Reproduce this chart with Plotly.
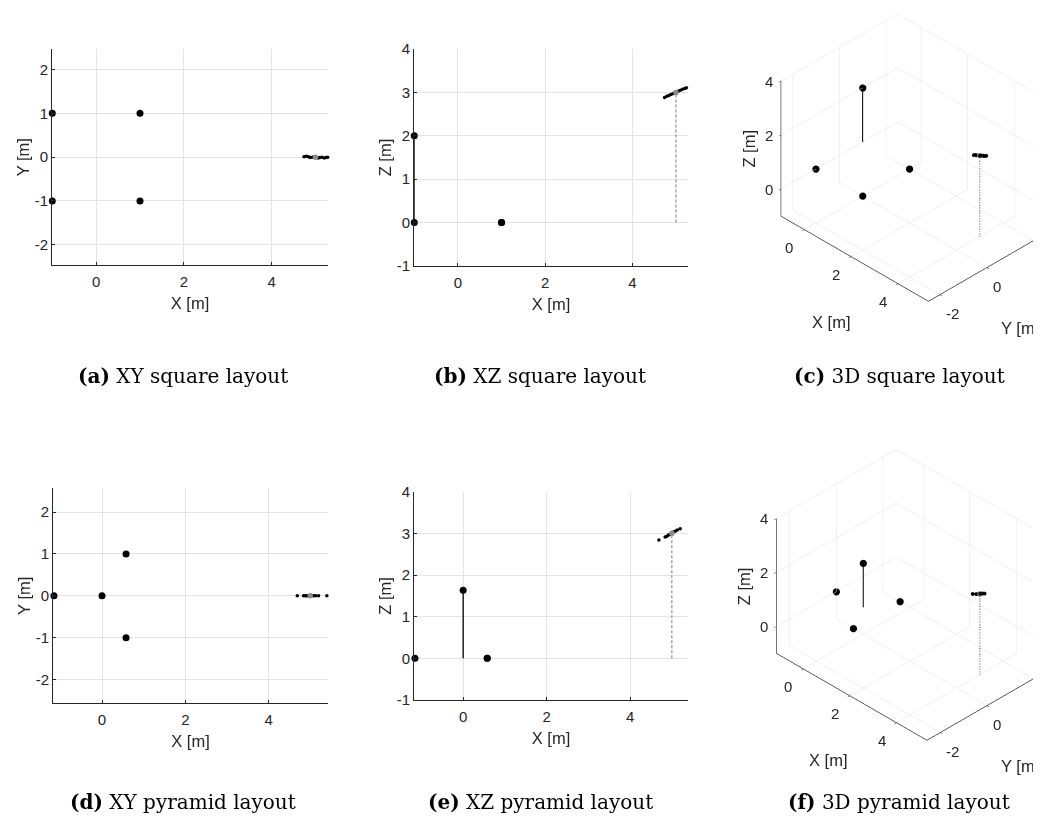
import math
import plotly.graph_objects as go

# page body has an 8px margin, so the figure is sized to fill the rest of the 1041x826 window
OFF = 8
W, H = 1041 - OFF, 826 - OFF

# ---------------- data ----------------
# anchor positions (square layout)
sq_anchor_x = [1, 1, -1, -1]
sq_anchor_y = [1, -1, -1, 1]
sq_anchor_z = [0, 0, 0, 2]
# anchor positions (pyramid layout)
pyr_anchor_x = [0.577, 0.577, -1.155, 0]
pyr_anchor_y = [1, -1, 0, 0]
pyr_anchor_z = [0, 0, 0, 1.633]

# true tag position
true_x = [5]
true_y = [0]
true_z = [3]

# estimated positions (square layout)
sq_est_x = [4.74, 4.79, 4.84, 4.88, 4.93, 4.97, 5.02, 5.06, 5.10, 5.15, 5.20, 5.24, 5.28]
sq_est_y = [0.01, 0.02, 0.01, -0.01, 0.00, 0.01, -0.01, -0.02, -0.01, 0.00, -0.02, -0.01, 0.00]
sq_est_z = [2.88, 2.91, 2.93, 2.95, 2.97, 2.99, 3.01, 3.03, 3.05, 3.07, 3.09, 3.11, 3.13]
# estimated positions (pyramid layout)
pyr_est_x = [4.69, 4.84, 4.88, 4.92, 4.95, 4.98, 5.01, 5.04, 5.08, 5.13, 5.20, 5.40]
pyr_est_y = [0.00, 0.00, 0.00, 0.00, 0.00, 0.00, 0.00, 0.00, 0.00, 0.00, 0.00, 0.00]
pyr_est_z = [2.84, 2.91, 2.93, 2.96, 2.97, 2.99, 3.01, 3.03, 3.05, 3.08, 3.11, 3.21]

x_ticks = [0, 2, 4]
y_ticks_xy = [-2, -1, 0, 1, 2]
z_ticks_xz = [-1, 0, 1, 2, 3, 4]
y_ticks_3d = [-2, 0, 2]
z_ticks_3d = [0, 2, 4]

captions = ["<b>(a)</b> XY square layout", "<b>(b)</b> XZ square layout", "<b>(c)</b> 3D square layout",
            "<b>(d)</b> XY pyramid layout", "<b>(e)</b> XZ pyramid layout", "<b>(f)</b> 3D pyramid layout"]

layouts = {
    "sq": dict(ax=sq_anchor_x, ay=sq_anchor_y, az=sq_anchor_z, ex=sq_est_x, ey=sq_est_y, ez=sq_est_z),
    "pyr": dict(ax=pyr_anchor_x, ay=pyr_anchor_y, az=pyr_anchor_z, ex=pyr_est_x, ey=pyr_est_y, ez=pyr_est_z),
}

# ---------------- style ----------------
INK = "#262626"
GRID = "#e3e3e3"
SANS = "Liberation Sans, Arial, sans-serif"
TICKF = dict(family=SANS, size=15, color=INK)
TITLEF = dict(family=SANS, size=16.5, color=INK)
BIG = 7
SMALL = 3.5

fig = go.Figure()


def fx(sx):
    return (sx - OFF) / W


def fy(sy):
    return 1 - (sy - OFF) / H


panels2d = [
    dict(k="", lay="sq", plane="xy", xdom=(52.3, 327.7), ydom=(49.3, 265.0), xr=[-1, 5.28], yr=[-2.46, 2.46]),
    dict(k="2", lay="sq", plane="xz", xdom=(414.3, 687.7), ydom=(49.0, 266.0), xr=[-1, 5.27], yr=[-1, 4]),
    dict(k="3", lay="pyr", plane="xy", xdom=(53.3, 327.7), ydom=(488.3, 703.3), xr=[-1.17, 5.42], yr=[-2.57, 2.57]),
    dict(k="4", lay="pyr", plane="xz", xdom=(414.3, 687.7), ydom=(491.7, 700.0), xr=[-1.17, 5.38], yr=[-1, 4]),
]

for p in panels2d:
    d = layouts[p["lay"]]
    xa, ya = "x" + p["k"], "y" + p["k"]
    vert_a = d["ay"] if p["plane"] == "xy" else d["az"]
    vert_e = d["ey"] if p["plane"] == "xy" else d["ez"]
    vert_t = true_y if p["plane"] == "xy" else true_z
    if p["plane"] == "xz":
        # dashed drop line from true position to ground
        fig.add_trace(go.Scatter(x=[true_x[0], true_x[0]], y=[0, true_z[0]], mode="lines",
                                 line=dict(color="#8c8c8c", width=1.2, dash="3px,2px"),
                                 xaxis=xa, yaxis=ya, showlegend=False, hoverinfo="skip"))
        # solid line for elevated anchor
        i = d["az"].index(max(d["az"]))
        fig.add_trace(go.Scatter(x=[d["ax"][i], d["ax"][i]], y=[0, d["az"][i]], mode="lines",
                                 line=dict(color="black", width=1.3),
                                 xaxis=xa, yaxis=ya, showlegend=False, hoverinfo="skip"))
    fig.add_trace(go.Scatter(x=d["ax"], y=vert_a, mode="markers", marker=dict(color="black", size=BIG),
                             xaxis=xa, yaxis=ya, showlegend=False, cliponaxis=False))
    fig.add_trace(go.Scatter(x=d["ex"], y=vert_e, mode="markers", marker=dict(color="black", size=SMALL),
                             xaxis=xa, yaxis=ya, showlegend=False, cliponaxis=False))
    fig.add_trace(go.Scatter(x=true_x, y=vert_t, mode="markers", marker=dict(color="#8c8c8c", size=5.5),
                             xaxis=xa, yaxis=ya, showlegend=False, cliponaxis=False))

    common = dict(showgrid=True, gridcolor=GRID, gridwidth=1, zeroline=False, showline=True,
                  linecolor=INK, linewidth=1.2, ticks="inside", ticklen=3, tickcolor=INK,
                  tickfont=TICKF, mirror=False)
    fig.layout["xaxis" + p["k"]] = dict(common, domain=[fx(p["xdom"][0]), fx(p["xdom"][1])], range=p["xr"],
                                         tickvals=x_ticks, ticktext=[str(v) for v in x_ticks],
                                         anchor=ya, ticklabelstandoff=3,
                                         title=dict(text="X [m]", font=TITLEF, standoff=8))
    vt = y_ticks_xy if p["plane"] == "xy" else z_ticks_xz
    fig.layout["yaxis" + p["k"]] = dict(common, domain=[fy(p["ydom"][1]), fy(p["ydom"][0])], range=p["yr"],
                                         tickvals=vt, ticktext=[str(v) for v in vt], anchor=xa,
                                         title=dict(text="Y [m]" if p["plane"] == "xy" else "Z [m]",
                                                    font=TITLEF, standoff=1))

# ---------------- 3D panels ----------------
# isometric-like view direction (from +x, -y, +z)
VIEW = (1 / math.sqrt(3), -1 / math.sqrt(3), 1 / math.sqrt(3))
DIST = 2.2

panels3d = [
    dict(scene="scene", lay="sq", xr=[-1, 5.3], yr=[-2.49, 2.49], zr=[-1, 4], sy=(8, 350),
         k=5.166, center=(-0.1079, -0.2105, -0.1026)),
    dict(scene="scene2", lay="pyr", xr=[-1.155, 5.3], yr=[-2.57, 2.57], zr=[-1, 4], sy=(420, 790),
         k=5.606, center=(-0.1193, -0.1643, -0.0450)),
]

for p in panels3d:
    d = layouts[p["lay"]]
    sc = p["scene"]
    fig.add_trace(go.Scatter3d(x=[true_x[0], true_x[0]], y=[true_y[0], true_y[0]], z=[0, true_z[0]],
                               mode="lines", line=dict(color="#404040", width=2, dash="dash"),
                               scene=sc, showlegend=False, hoverinfo="skip"))
    i = d["az"].index(max(d["az"]))
    fig.add_trace(go.Scatter3d(x=[d["ax"][i], d["ax"][i]], y=[d["ay"][i], d["ay"][i]], z=[0, d["az"][i]],
                               mode="lines", line=dict(color="black", width=2),
                               scene=sc, showlegend=False, hoverinfo="skip"))
    fig.add_trace(go.Scatter3d(x=d["ax"], y=d["ay"], z=d["az"], mode="markers",
                               marker=dict(color="black", size=4.2), scene=sc, showlegend=False))
    fig.add_trace(go.Scatter3d(x=d["ex"], y=d["ey"], z=d["ez"], mode="markers",
                               marker=dict(color="black", size=2.2), scene=sc, showlegend=False))
    fig.add_trace(go.Scatter3d(x=true_x, y=true_y, z=true_z, mode="markers",
                               marker=dict(color="#8c8c8c", size=3.2), scene=sc, showlegend=False))

    ax3 = dict(showgrid=True, gridcolor=GRID, gridwidth=1, zeroline=False, showline=True, linecolor=INK,
               linewidth=1.5, showbackground=False, ticks="outside", ticklen=3, tickcolor=INK,
               showticklabels=False, showspikes=False, title=dict(text=""))
    xr, yr, zr = p["xr"], p["yr"], p["zr"]
    # horizontal tick labels and axis titles as scene annotations
    ann = []
    for v in x_ticks:
        ann.append(dict(x=v, y=yr[0], z=zr[0], text=str(v), xanchor="right", xshift=-9, yshift=-17.5))
    for v in y_ticks_3d:
        ann.append(dict(x=xr[1], y=v, z=zr[0], text=str(v), xanchor="left", xshift=4, yshift=-18.5))
    for v in z_ticks_3d:
        ann.append(dict(x=xr[0], y=yr[0], z=v, text=str(v), xanchor="right", xshift=-6, yshift=0))
    for a in ann:
        a.update(showarrow=False, font=TICKF)
    ann.append(dict(x=(xr[0] + xr[1]) / 2, y=yr[0], z=zr[0], text="X [m]", showarrow=False, font=TITLEF,
                    xshift=-23, yshift=-63.5))
    ann.append(dict(x=xr[1], y=(yr[0] + yr[1]) / 2, z=zr[0], text="Y [m]", showarrow=False, font=TITLEF,
                    xshift=33, yshift=-60))
    ann.append(dict(x=xr[0], y=yr[0], z=(zr[0] + zr[1]) / 2, text="Z [m]", showarrow=False, font=TITLEF,
                    textangle=-90, xshift=-32, yshift=0))

    c = p["center"]
    eye = dict(x=c[0] + VIEW[0] * DIST, y=c[1] + VIEW[1] * DIST, z=c[2] + VIEW[2] * DIST)
    K = p["k"]
    fig.layout[sc] = dict(
        domain=dict(x=[fx(708), 1], y=[fy(p["sy"][1]), fy(p["sy"][0])]),
        xaxis=dict(ax3, range=xr, tickvals=x_ticks),
        yaxis=dict(ax3, range=yr, tickvals=y_ticks_3d),
        zaxis=dict(ax3, range=zr, tickvals=z_ticks_3d),
        aspectmode="manual",
        aspectratio=dict(x=(xr[1] - xr[0]) / K, y=(yr[1] - yr[0]) / K, z=(zr[1] - zr[0]) / K),
        camera=dict(eye=eye, up=dict(x=0, y=0, z=1), center=dict(x=c[0], y=c[1], z=c[2]),
                    projection=dict(type="orthographic")),
        bgcolor="white",
        annotations=ann,
    )

# ---------------- captions ----------------
cap_pos = [(183, 376), (540, 376), (899, 376), (183, 802), (540, 802), (899, 802)]
for txt, (cx, cy) in zip(captions, cap_pos):
    fig.add_annotation(text=txt, x=fx(cx), y=fy(cy), xref="paper", yref="paper", showarrow=False,
                       xanchor="center", yanchor="middle",
                       font=dict(family="DejaVu Serif, serif", size=20, color="black"))

fig.update_layout(width=W, height=H, margin=dict(l=0, r=0, t=0, b=0), paper_bgcolor="white",
                  plot_bgcolor="white", template="none", showlegend=False)

fig.write_html("out.html", config=dict(displayModeBar=False))
